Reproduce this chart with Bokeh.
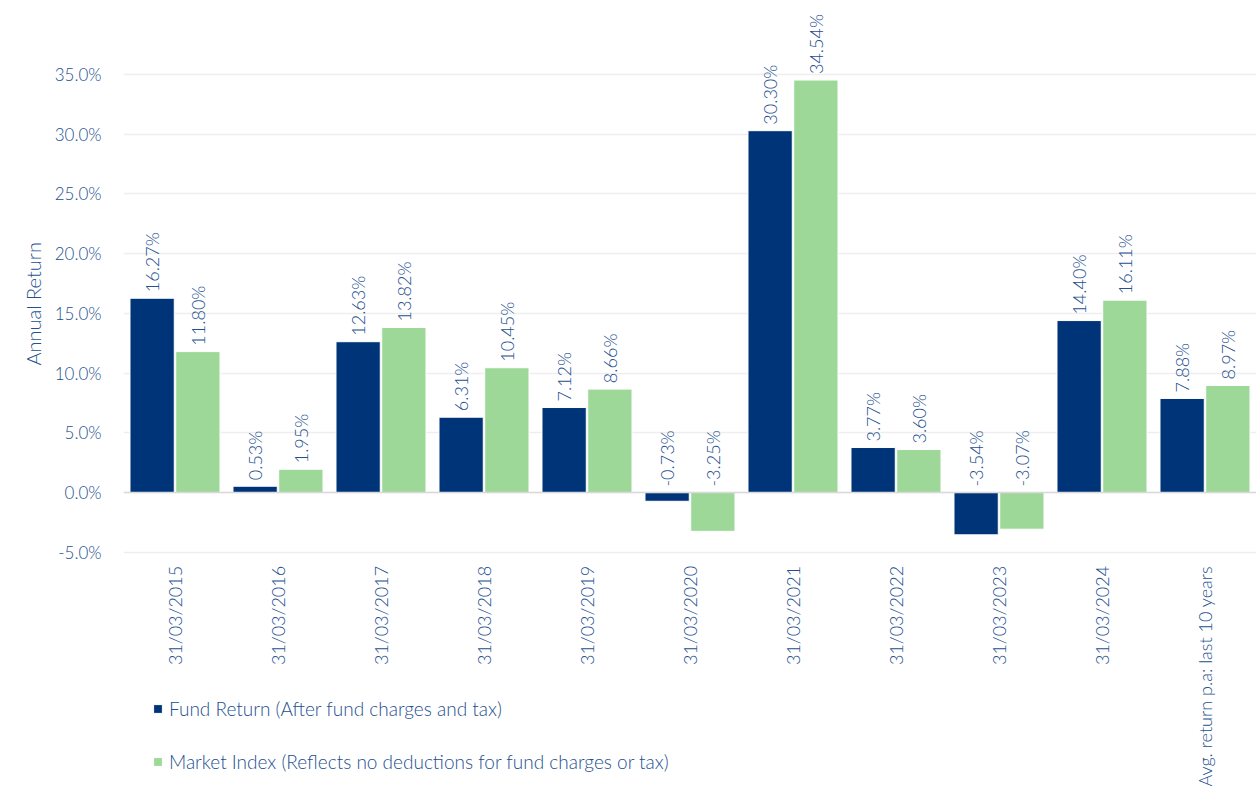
import numpy as np
from bokeh.plotting import figure
from bokeh.models import (ColumnDataSource, FactorRange, Range1d, Legend, LegendItem,
                          PrintfTickFormatter, FixedTicker, Span, LabelSet, Title, LinearAxis)
from bokeh.transform import dodge
from bokeh.core.properties import value
from bokeh.embed import file_html
from bokeh.resources import INLINE

categories = ["31/03/2015", "31/03/2016", "31/03/2017", "31/03/2018", "31/03/2019",
              "31/03/2020", "31/03/2021", "31/03/2022", "31/03/2023", "31/03/2024",
              "Avg. return p.a: last 10 years"]
fund_return = [16.27, 0.53, 12.63, 6.31, 7.12, -0.73, 30.30, 3.77, -3.54, 14.40, 7.88]
market_index = [11.80, 1.95, 13.82, 10.45, 8.66, -3.25, 34.54, 3.60, -3.07, 16.11, 8.97]
y_ticks = [-5, 0, 5, 10, 15, 20, 25, 30, 35]

NAVY = "#003478"
GREEN = "#9dd898"
TXT = "#24508f"
FONT = "'Lato Light', Lato, sans-serif"

src = ColumnDataSource(dict(
    cat=categories,
    fund=fund_return,
    index=market_index,
    fund_lab=["%.2f%%" % v for v in fund_return],
    index_lab=["%.2f%%" % v for v in market_index],
    fund_pos=[max(v, 0) for v in fund_return],
    index_pos=[max(v, 0) for v in market_index],
))

# frame spans the whole height so the legend can sit beside the category labels
p = figure(width=1256, height=796, x_range=FactorRange(*categories),
           y_range=Range1d(-25.45, 41.2), output_backend="svg", toolbar_location=None,
           min_border_left=123, min_border_right=0, min_border_top=0, min_border_bottom=0)
p.outline_line_color = None

off = 0.222
w = 0.43
r1 = p.vbar(x=dodge("cat", -off, range=p.x_range), top="fund", bottom=0, width=w,
            source=src, fill_color=NAVY, line_color="white", line_width=1)
r2 = p.vbar(x=dodge("cat", off, range=p.x_range), top="index", bottom=0, width=w,
            source=src, fill_color=GREEN, line_color="white", line_width=1)

for xcol, ycol, tcol in [(-off, "fund_pos", "fund_lab"), (off, "index_pos", "index_lab")]:
    p.add_layout(LabelSet(x=dodge("cat", xcol, range=p.x_range), y=ycol, text=tcol,
                          source=src, angle=np.pi / 2, x_offset=0, y_offset=6,
                          text_align="left", text_baseline="middle",
                          text_font=value(FONT), text_font_size="18px", text_color=TXT))

p.add_layout(Span(location=0, dimension="width", line_color="#d9d9d9", line_width=1.5))

p.xgrid.grid_line_color = None
p.ygrid.grid_line_color = "#eeeeee"
p.ygrid.grid_line_width = 1.5

p.yaxis.ticker = FixedTicker(ticks=y_ticks)
p.yaxis.formatter = PrintfTickFormatter(format="%.1f%%")
p.yaxis.axis_line_color = None
p.yaxis.major_tick_line_color = None
p.yaxis.minor_tick_line_color = None
p.yaxis.major_label_standoff = 16
p.yaxis.major_label_text_font = FONT
p.yaxis.major_label_text_font_size = "17px"
p.yaxis.major_label_text_color = TXT

# empty axis used only as horizontal spacing between tick labels and the title
spacer = LinearAxis(ticker=FixedTicker(ticks=[]), axis_line_color=None,
                    major_tick_line_color="white", minor_tick_line_color=None,
                    major_tick_in=0, major_tick_out=14, minor_tick_in=0, minor_tick_out=0,
                    major_label_standoff=0)
p.add_layout(spacer, "left")

ytitle = Title(text="Annual Return", align="left", vertical_align="top", offset=431,
               standoff=10, text_font=FONT, text_font_size="20px", text_font_style="normal",
               text_color=TXT)
p.add_layout(ytitle, "left")

p.xaxis.fixed_location = -5.3
p.xaxis.axis_line_color = None
p.xaxis.major_tick_line_color = None
p.xaxis.minor_tick_line_color = None
p.xaxis.major_label_orientation = np.pi / 2
p.xaxis.major_label_standoff = 4
p.xaxis.major_label_text_font = FONT
p.xaxis.major_label_text_font_size = "18px"
p.xaxis.major_label_text_color = TXT

legend = Legend(items=[
    LegendItem(label="Fund Return (After fund charges and tax)", renderers=[r1]),
    LegendItem(label="Market Index (Reflects no deductions for fund charges or tax)", renderers=[r2]),
], location=(29, 23), orientation="vertical", border_line_color=None,
    background_fill_alpha=0, padding=0, margin=0, spacing=30,
    glyph_width=11, glyph_height=11, label_height=20, label_standoff=6,
    label_text_font=FONT, label_text_font_size="19px", label_text_color=TXT)
p.add_layout(legend, "center")

open("out.html", "w").write(file_html(p, INLINE))
